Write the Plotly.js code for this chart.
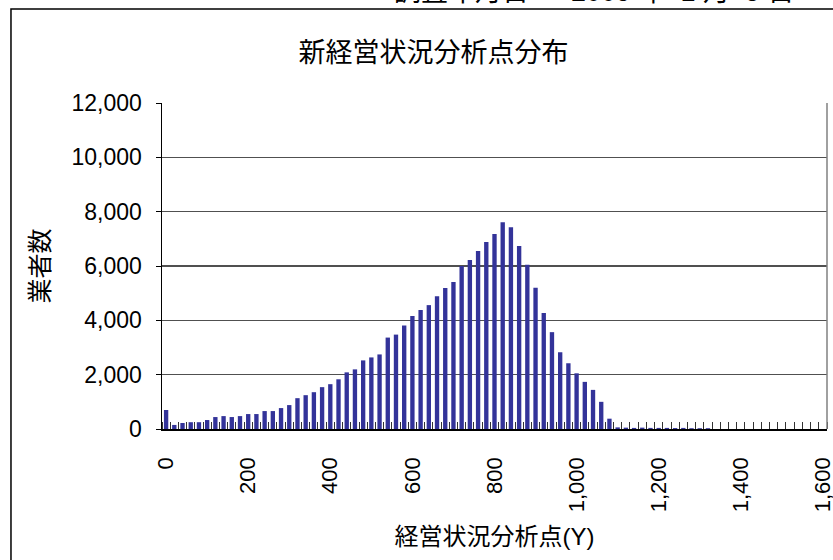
<!DOCTYPE html>
<html>
<head>
<meta charset="utf-8">
<script src="https://cdn.plot.ly/plotly-3.0.1.min.js"></script>
<style>html,body{margin:0;padding:0;background:#fff;}#chart{width:833px;height:560px;}</style>
</head>
<body>
<div id="chart"></div>
<script>
var categories = [0,20,40,60,80,100,120,140,160,180,
  200,220,240,260,280,300,320,340,360,380,
  400,420,440,460,480,500,520,540,560,580,
  600,620,640,660,680,700,720,740,760,780,
  800,820,840,860,880,900,920,940,960,980,
  1000,1020,1040,1060,1080,1100,1120,1140,1160,1180,
  1200,1220,1240,1260,1280,1300,1320,1340,1360,1380,
  1400,1420,1440,1460,1480,1500,1520,1540,1560,1580,1600];
var counts = [700,150,220,250,250,330,440,475,440,475,
  550,550,660,660,770,880,1135,1245,1355,1540,
  1650,1830,2085,2195,2525,2635,2745,3365,3475,3810,
  4160,4380,4560,4890,5190,5410,6000,6220,6550,6880,
  7175,7610,7430,6740,6050,5195,4270,3565,2825,2420,
  2050,1735,1440,1000,380,60,50,40,50,40,
  40,40,35,40,30,30,30,0,0,0,
  0,0,0,0,0,0,0,0,0,0,0];
var xTickVals = [0,200,400,600,800,1000,1200,1400,1600];
var yTickVals = [0,2000,4000,6000,8000,10000,12000];
var titleText = "新経営状況分析点分布";
var xTitle = "経営状況分析点(Y)";
var yTitle = "業者数";
var dateText = "調査年月日：  2009 年  1 月  5 日";

var FONT = "Liberation Sans, Arial, Noto Sans CJK JP, sans-serif";

var trace = {
  type: "bar",
  x: categories,
  y: counts,
  marker: {color: "#333399", line: {width: 0}},
  hoverinfo: "x+y"
};

var layout = {
  width: 833, height: 560,
  margin: {l: 162, r: 6, t: 103, b: 131, pad: 0},
  paper_bgcolor: "#ffffff", plot_bgcolor: "#ffffff",
  font: {family: FONT, color: "#000000", size: 22},
  showlegend: false,
  bargap: 0.47,
  title: {
    text: titleText,
    font: {family: FONT, size: 27, color: "#000"},
    xref: "container", x: 0.5204, xanchor: "center",
    yref: "container", y: 0.906, yanchor: "middle"
  },
  xaxis: {
    type: "linear",
    range: [-10, 1610],
    tickmode: "array",
    tickvals: xTickVals,
    tickformat: ",d",
    tickangle: -90,
    ticks: "",
    ticklabelstandoff: 18,
    ticklabeloverflow: "allow",
    tickfont: {family: FONT, size: 22, color: "#000"},
    minor: {ticks: "inside", ticklen: 7, tickwidth: 1, tickcolor: "#333333", tick0: 10, dtick: 20, showgrid: false},
    showline: true, linecolor: "#000000", linewidth: 1.5,
    showgrid: false, zeroline: false,
    fixedrange: true,
    title: {text: xTitle, font: {family: FONT, size: 24, color: "#000"}, standoff: 17}
  },
  yaxis: {
    range: [0, 12000],
    tickmode: "array",
    tickvals: yTickVals,
    tickformat: ",d",
    ticks: "outside", ticklen: 5, tickcolor: "#000", tickwidth: 1,
    ticklabelstandoff: 9,
    tickfont: {family: FONT, size: 23, color: "#000"},
    showline: true, linecolor: "#000000", linewidth: 1.5,
    showgrid: true, gridcolor: "#505050", gridwidth: 1.2,
    zeroline: false,
    fixedrange: true,
    title: {text: yTitle, font: {family: FONT, size: 25, color: "#000"}, standoff: 15}
  },
  shapes: [
    {type: "line", xref: "paper", yref: "paper", x0: 1, x1: 1, y0: 0, y1: 1,
     line: {color: "#808080", width: 1.5}},
    {type: "rect", xref: "paper", yref: "paper", x0: -0.2271, x1: 1.6, y0: -1.5, y1: 1.2883,
     line: {color: "#000000", width: 1.5}, fillcolor: "rgba(0,0,0,0)", layer: "above"}
  ],
  annotations: [
    {text: dateText, xref: "paper", yref: "paper", x: 0.955, y: 1.2883,
     xanchor: "right", yanchor: "bottom", showarrow: false,
     font: {family: FONT, size: 27, color: "#000"}}
  ]
};

Plotly.newPlot("chart", [trace], layout, {staticPlot: true, displayModeBar: false});
</script>
</body>
</html>
